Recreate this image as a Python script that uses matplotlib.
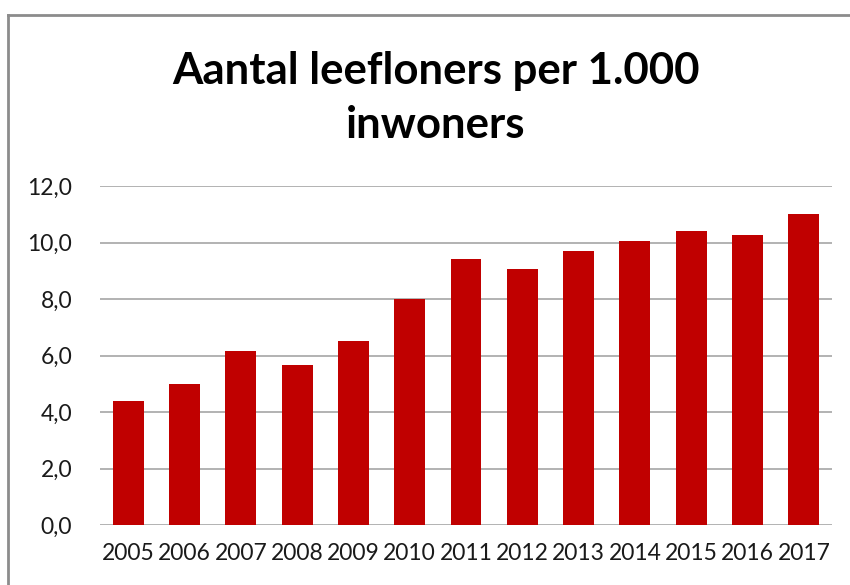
import matplotlib
matplotlib.use('Agg')
from matplotlib import pyplot as plt
from matplotlib.lines import Line2D

plt.rcParams['font.family'] = ['Lato', 'DejaVu Sans']

# data
jaren = ['2005', '2006', '2007', '2008', '2009', '2010', '2011',
         '2012', '2013', '2014', '2015', '2016', '2017']
leefloners = [4.4, 5.0, 6.15, 5.65, 6.5, 8.0, 9.4, 9.05, 9.7, 10.05, 10.4, 10.25, 11.0]
y_ticks = [0, 2, 4, 6, 8, 10, 12]

fig = plt.figure(figsize=(8.5, 5.85), dpi=100)
ax = fig.add_axes([100 / 850, 1 - 525 / 585, 732 / 850, 339 / 585])

x = list(range(len(jaren)))
ax.bar(x, leefloners, width=0.55, color='#C00000', zorder=3)
ax.set_xlim(-0.5, len(jaren) - 0.5)
ax.set_ylim(0, 12)
ax.set_xticks(x)
ax.set_xticklabels(jaren)
ax.set_yticks(y_ticks)
ax.set_yticklabels([f'{v:.1f}'.replace('.', ',') for v in y_ticks])
ax.tick_params(axis='both', length=0, labelsize=16.5, colors='#1a1a1a')
ax.tick_params(axis='y', pad=20)
ax.tick_params(axis='x', pad=13)
ax.grid(axis='y', color='#a6a6a6', linewidth=1.2, zorder=0)
for s in ax.spines.values():
    s.set_visible(False)

fig.text(436 / 850, 1 - 98 / 585, 'Aantal leefloners per 1.000\ninwoners',
         ha='center', va='center', fontsize=31.5, fontweight='bold',
         linespacing=1.42, color='black')

# chart border (left and top visible)
fig.add_artist(Line2D([8 / 850, 8 / 850], [0, 1 - 15 / 585], transform=fig.transFigure,
                      color='#8c8c8c', linewidth=2))
fig.add_artist(Line2D([8 / 850, 1], [1 - 15 / 585, 1 - 15 / 585], transform=fig.transFigure,
                      color='#8c8c8c', linewidth=2))

plt.savefig('out.png', dpi=100)
